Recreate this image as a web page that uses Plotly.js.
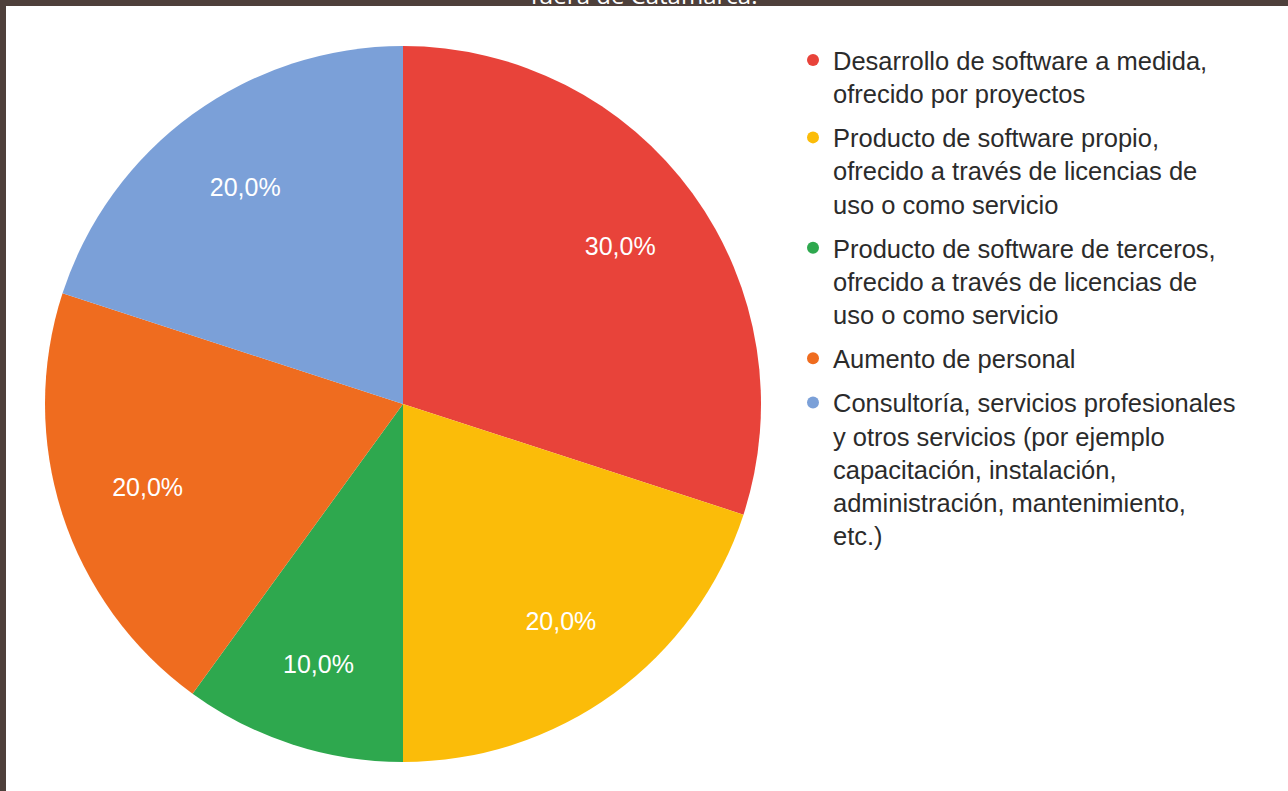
<!DOCTYPE html>
<html>
<head>
<meta charset="utf-8">
<script src="https://cdn.plot.ly/plotly-3.0.1.min.js"></script>
<style>
  html, body { margin: 0; padding: 0; background: #ffffff; }
  #chart { width: 1288px; height: 791px; }
</style>
</head>
<body>
<div id="chart"></div>
<script>
const categories = [
  "Desarrollo de software a medida,<br>ofrecido por proyectos",
  "Producto de software propio,<br>ofrecido a través de licencias de<br>uso o como servicio",
  "Producto de software de terceros,<br>ofrecido a través de licencias de<br>uso o como servicio",
  "Aumento de personal",
  "Consultoría, servicios profesionales<br>y otros servicios (por ejemplo<br>capacitación, instalación,<br>administración, mantenimiento,<br>etc.)"
];
const values = [30, 20, 10, 20, 20];
const colors = ["#e8433a", "#fbbc09", "#2ea84e", "#ef6c1f", "#7ba0d8"];
const titleText = "fuera de Catamarca.";

const W = 1288, H = 791;
const cx = 403, cy = 404, R = 358;
const pieDomain = { x: [(cx - R) / W, (cx + R) / W], y: [1 - (cy + R) / H, 1 - (cy - R) / H] };

const pie = {
  type: "pie",
  values: values,
  labels: categories,
  marker: { colors: colors, line: { width: 0 } },
  sort: false,
  direction: "clockwise",
  rotation: 0,
  textinfo: "none",
  hoverinfo: "label+percent",
  showlegend: false,
  domain: pieDomain
};

// transparent ring carrying the percentage labels at mid-ring radius
const labelRing = {
  type: "pie",
  values: values,
  labels: categories,
  hole: 0.5,
  marker: { colors: colors.map(() => "rgba(0,0,0,0)"), line: { width: 0 } },
  sort: false,
  direction: "clockwise",
  rotation: 0,
  texttemplate: "%{percent:.1%}",
  textposition: "inside",
  insidetextorientation: "horizontal",
  textfont: { family: "Liberation Sans, Arial, sans-serif", size: 25, color: "#ffffff" },
  hoverinfo: "skip",
  showlegend: false,
  domain: pieDomain
};

const legendTraces = categories.map((c, i) => ({
  type: "scatter",
  mode: "markers",
  x: [null], y: [null],
  name: c,
  legendgroup: "g" + i,
  marker: { color: colors[i], size: 12, symbol: "circle" },
  showlegend: true,
  hoverinfo: "skip"
}));

const layout = {
  width: W, height: H,
  margin: { l: 0, r: 0, t: 0, b: 0 },
  paper_bgcolor: "#ffffff",
  plot_bgcolor: "#ffffff",
  separators: ",.",
  xaxis: { visible: false },
  yaxis: { visible: false },
  title: {
    text: titleText,
    font: { family: "Open Sans, sans-serif", size: 24, color: "#ffffff" },
    x: 0.5, xanchor: "center",
    xref: "paper", yref: "paper",
    y: 1 - 4 / H, yanchor: "bottom"
  },
  showlegend: true,
  legend: {
    x: 793 / W, xanchor: "left",
    y: 1 - 37 / H, yanchor: "top",
    font: { family: "Liberation Sans, Arial, sans-serif", size: 25.5, color: "#2b2b2b" },
    valign: "top",
    tracegroupgap: 8,
    bgcolor: "rgba(0,0,0,0)",
    traceorder: "grouped"
  },
  shapes: [
    { type: "rect", xref: "paper", yref: "paper", x0: 0, x1: 1, y0: 1 - 6 / H, y1: 1, fillcolor: "#4e403b", line: { width: 0 }, layer: "below" },
    { type: "rect", xref: "paper", yref: "paper", x0: 0, x1: 6 / W, y0: 0, y1: 1, fillcolor: "#4e403b", line: { width: 0 }, layer: "below" }
  ]
};

Plotly.newPlot("chart", [pie, labelRing, ...legendTraces], layout, { displayModeBar: false, staticPlot: true });
</script>
</body>
</html>
